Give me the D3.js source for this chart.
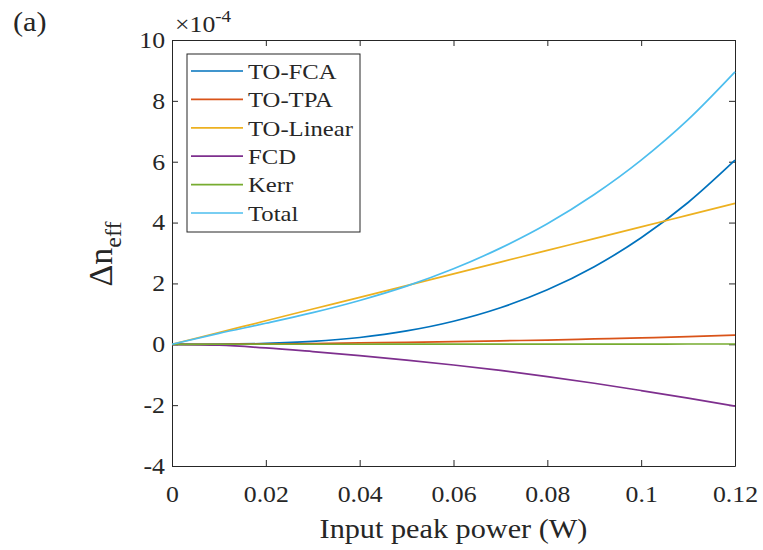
<!DOCTYPE html>
<html>
<head>
<meta charset="utf-8">
<script src="https://cdn.jsdelivr.net/npm/d3@7"></script>
<style>
	body { margin: 0; background: #fff; }
	text { font-family: "Liberation Serif", "Times New Roman", serif; fill: #262626; }
</style>
</head>
<body>
<div id="chart"></div>
<script>
// input peak power (W)
const power = [0, 0.01, 0.02, 0.03, 0.04, 0.05, 0.06, 0.07, 0.08, 0.09, 0.1, 0.11, 0.12];
// delta n_eff, in units of 1e-4
const to_fca = [0, 0.0035, 0.028, 0.095, 0.224, 0.438, 0.756, 1.2, 1.79, 2.55, 3.5, 4.66, 6.05];
const to_tpa = [0, 0.002, 0.01, 0.025, 0.045, 0.065, 0.09, 0.115, 0.14, 0.175, 0.21, 0.25, 0.3];
const to_linear = [0, 0.386, 0.772, 1.158, 1.543, 1.929, 2.315, 2.7, 3.087, 3.47, 3.858, 4.244, 4.63];
const fcd = [0, -0.03, -0.12, -0.24, -0.37, -0.52, -0.68, -0.86, -1.06, -1.28, -1.52, -1.77, -2.03];
const kerr = [0, 0.0005, 0.001, 0.0015, 0.002, 0.003, 0.004, 0.005, 0.006, 0.007, 0.008, 0.009, 0.01];
const total = [0, 0.36, 0.69, 1.04, 1.44, 1.91, 2.48, 3.16, 3.96, 4.92, 6.05, 7.38, 8.95];

const series_names = ["TO-FCA", "TO-TPA", "TO-Linear", "FCD", "Kerr", "Total"];
const series_values = [to_fca, to_tpa, to_linear, fcd, kerr, total];
const series_colors = ["#0072BD", "#D95319", "#EDB120", "#7E2F8E", "#77AC30", "#4DBEEE"];

const x_ticks = [0, 0.02, 0.04, 0.06, 0.08, 0.1, 0.12];
const y_ticks = [-4, -2, 0, 2, 4, 6, 8, 10];

const svg_width = 763;
const svg_height = 550;
const margin = { top: 40, right: 28, bottom: 84, left: 172 };
const serif = '"Liberation Serif", "Times New Roman", serif';
const axis_color = "#262626";
const tick_len = 6;
const stretch_x = 1.12; // the source picture is a bit wider than tall

// widen plain text the way the original figure was widened
function stretch(sel) {
	sel.each(function () {
		const w = this.getComputedTextLength();
		d3.select(this)
			.attr("textLength", w * stretch_x)
			.attr("lengthAdjust", "spacingAndGlyphs");
	});
}

const svg = d3
	.select("#chart")
	.append("svg")
	.attr("width", svg_width)
	.attr("height", svg_height);

const x = d3
	.scaleLinear()
	.domain([0, 0.12])
	.range([margin.left, svg_width - margin.right]);
const y = d3
	.scaleLinear()
	.domain([-4, 10])
	.range([svg_height - margin.bottom, margin.top]);

// bottom axis with labels
const xAxis = svg
	.append("g")
	.attr("transform", `translate(0,${svg_height - margin.bottom})`)
	.call(
		d3
			.axisBottom(x)
			.tickValues(x_ticks)
			.tickFormat((d) => String(+d.toFixed(2)))
			.tickSizeInner(-tick_len)
			.tickSizeOuter(0)
			.tickPadding(20)
	);
// left axis with labels
const yAxis = svg
	.append("g")
	.attr("transform", `translate(${margin.left},0)`)
	.call(
		d3
			.axisLeft(y)
			.tickValues(y_ticks)
			.tickFormat((d) => String(d))
			.tickSizeInner(-tick_len)
			.tickSizeOuter(0)
			.tickPadding(7)
	);
// top and right, ticks only
svg.append("g")
	.attr("transform", `translate(0,${margin.top})`)
	.call(d3.axisTop(x).tickValues(x_ticks).tickFormat("").tickSizeInner(-tick_len).tickSizeOuter(0));
svg.append("g")
	.attr("transform", `translate(${svg_width - margin.right},0)`)
	.call(d3.axisRight(y).tickValues(y_ticks).tickFormat("").tickSizeInner(-tick_len).tickSizeOuter(0));

svg.selectAll(".domain, .tick line").attr("stroke", axis_color).attr("stroke-width", 1);
svg.selectAll("g").attr("font-family", serif);
svg.selectAll(".tick text")
	.attr("font-size", 23)
	.attr("font-family", serif)
	.attr("fill", axis_color)
	.call(stretch);

// curves
const line = d3
	.line()
	.x((d) => x(d[0]))
	.y((d) => y(d[1]))
	.curve(d3.curveMonotoneX);

series_values.forEach(function (vals, i) {
	svg.append("path")
		.datum(power.map((p, j) => [p, vals[j]]))
		.attr("fill", "none")
		.attr("stroke", series_colors[i])
		.attr("stroke-width", 1.7)
		.attr("d", line);
});

// legend
const legend = svg.append("g").attr("transform", "translate(187,54)");
legend
	.append("rect")
	.attr("width", 173)
	.attr("height", 178)
	.attr("fill", "#fff")
	.attr("stroke", axis_color)
	.attr("stroke-width", 1);
const row_h = 28.4;
series_names.forEach(function (name, i) {
	const yy = 17 + i * row_h;
	legend.append("line")
		.attr("x1", 4)
		.attr("x2", 56)
		.attr("y1", yy)
		.attr("y2", yy)
		.attr("stroke", series_colors[i])
		.attr("stroke-width", 1.7);
	legend.append("text")
		.attr("x", 61)
		.attr("y", yy)
		.attr("dy", "0.35em")
		.attr("font-size", 22)
		.text(name)
		.call(stretch);
});

// axis labels
svg.append("text")
	.attr("x", (margin.left + svg_width - margin.right) / 2)
	.attr("y", 538)
	.attr("text-anchor", "middle")
	.attr("font-size", 27)
	.text("Input peak power (W)")
	.call(stretch);

const ylab = svg
	.append("text")
	.attr("transform", "translate(112,254) rotate(-90)")
	.attr("text-anchor", "middle");
ylab.append("tspan").attr("font-size", 34).text("Δn");
ylab.append("tspan").attr("font-size", 24).attr("dy", 9).text("eff");

// exponent
const expo = svg
	.append("text")
	.attr("transform", `translate(175,32) scale(${stretch_x},1)`)
	.attr("font-size", 23);
expo.append("tspan").text("×10");
expo.append("tspan").attr("font-size", 17).attr("dy", -10).text("-4");

// panel label
svg.append("text")
	.attr("x", 13)
	.attr("y", 31)
	.attr("font-size", 27)
	.text("(a)")
	.call(stretch);
</script>
</body>
</html>
